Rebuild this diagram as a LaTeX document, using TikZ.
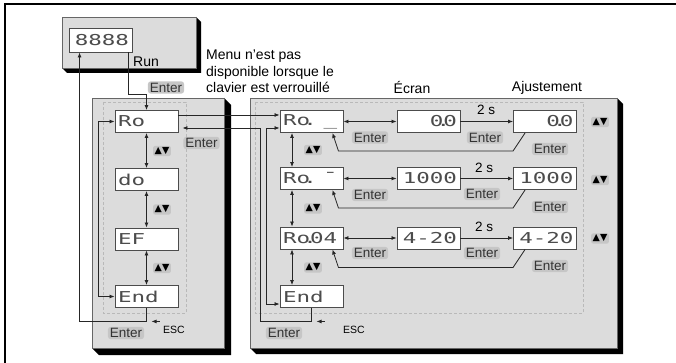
\documentclass[tikz,border=0pt]{standalone}
\usepackage{fontspec}
\setmainfont{Liberation Sans}
\newfontfamily\segfont[FakeStretch=1.5]{DejaVu Sans Mono}
\newfontfamily\symfont{DejaVu Sans}
\usetikzlibrary{calc,arrows.meta}
\definecolor{panelgray}{HTML}{DCDCDC}
\definecolor{pillgray}{HTML}{C6C6C6}
\definecolor{inkgray}{HTML}{333333}
\newcommand{\dotp}{\makebox[0pt]{.}}
\tikzset{disp/.style={draw=black!70, fill=white, line width=0.9pt, minimum height=22pt,
		text width=57pt, inner sep=3pt, text=black!70, font=\segfont\fontsize{15}{15}\selectfont},
	displeft/.style={disp, align=left},
	dispright/.style={disp, align=right},
	enter/.style={fill=pillgray, rounded corners=3pt, inner xsep=2pt, inner ysep=1.5pt,
		text=inkgray, font=\fontsize{13.5}{14}\selectfont},
	updn/.style={fill=pillgray, rounded corners=2pt, inner sep=1.5pt,
		font=\symfont\fontsize{9.5}{9.5}\selectfont},
	note/.style={font=\fontsize{14}{16.5}\selectfont, inner sep=0pt},
	esc/.style={font=\fontsize{10.5}{11}\selectfont, inner sep=0pt},
	conn/.style={draw=black!85, line width=0.8pt},
	arr/.style={conn, -{Latex[length=5pt,width=4pt]}},
	dbl/.style={conn, {Latex[length=5pt,width=4pt]}-{Latex[length=5pt,width=4pt]}},
	dashbox/.style={draw=gray!55, line width=0.6pt, dash pattern=on 3pt off 2pt}}

\begin{document}
\begin{tikzpicture}[x=1pt,y=-1pt]
		\useasboundingbox (0,0) rectangle (676,363);
		% frame
		\draw[line width=1.2pt] (5,363) -- (5,4) -- (676,4);
		% panels
		\fill[black] (196,17) -- (201,22) -- (201,73) -- (67,73) -- (62,68) -- (196,68) -- cycle;
		\filldraw[fill=panelgray, draw=black!60] (62,17) rectangle (196,68);
		\fill[black] (224,98) -- (231,105) -- (231,355) -- (99,355) -- (92,348) -- (224,348) -- cycle;
		\filldraw[fill=panelgray, draw=black!60] (92,98) rectangle (224,348);
		\fill[black] (617,98) -- (623,104) -- (623,354) -- (256,354) -- (250,348) -- (617,348) -- cycle;
		\filldraw[fill=panelgray, draw=black!60] (250,98) rectangle (617,348);
		\draw[dashbox] (103,102) rectangle (186,313);
		\draw[dashbox] (255,102) rectangle (583,313);
		
		% displays
		\node[dispright, minimum height=24pt] (run8) at (100.5,40) {8888};
		\node[displeft] (aoL) at (146.5,121.5) {Ro};
		\node[displeft] (doL) at (146.5,179.5) {do};
		\node[displeft] (efL) at (146.5,239) {EF};
		\node[displeft] (endL) at (146.5,296.5) {End};
		\node[displeft] (aoR) at (311.5,121.5) {Ro\dotp\phantom{0}\_};
		\node[displeft] (ahR) at (311.5,178.5) {Ro\dotp\phantom{0}¯};
		\node[displeft] (asR) at (311.5,238) {Ro\dotp04};
		\node[displeft] (endR) at (311.5,296.5) {End};
		\node[dispright] (ecr1) at (428.5,121.5) {0\dotp0};
		\node[dispright] (ecr2) at (428.5,178.5) {1000};
		\node[dispright] (ecr3) at (428.5,238) {4-20};
		\node[dispright] (adj1) at (545,121.5) {0\dotp0};
		\node[dispright] (adj2) at (545,178.5) {1000};
		\node[dispright] (adj3) at (545,238) {4-20};
		
		% texts
		\node[note] (runTxt) at (146,62) {Run};
		\node[note, anchor=north west, align=left] (menuTxt) at (206,50)
		{Menu n'est pas\\disponible lorsque le\\clavier est verrouillé};
		\node[note] (ecranTxt) at (412,88) {Écran};
		\node[note] (ajustTxt) at (547,88) {Ajustement};
		\node[enter] (enRun) at (166,87.5) {Enter};
		\node[enter] (enLeft) at (201.5,143) {Enter};
		\node[enter] (enEscL) at (126,333) {Enter};
		\node[esc] (escL) at (174,330) {ESC};
		\node[enter] (enEscR) at (284,333) {Enter};
		\node[esc] (escR) at (354,330) {ESC};
		\node[updn] (udL1) at (162,151) {▲▼};
		\node[updn] (udL2) at (162,209.5) {▲▼};
		\node[updn] (udL3) at (162,268) {▲▼};
		\node[updn] (udR1) at (313,150) {▲▼};
		\node[updn] (udR2) at (313,208.5) {▲▼};
		\node[updn] (udR3) at (313,267.5) {▲▼};
		\node[updn] (udA1) at (600,122) {▲▼};
		\node[updn] (udA2) at (600,180) {▲▼};
		\node[updn] (udA3) at (600,238.5) {▲▼};
		\node[note, font=\fontsize{13.5}{14}\selectfont] (tA) at (486,110) {2 s};
		\node[note, font=\fontsize{13.5}{14}\selectfont] (tB) at (484,167.5) {2 s};
		\node[note, font=\fontsize{13.5}{14}\selectfont] (tC) at (484,227) {2 s};
		\node[enter] (en1a) at (370,137.5) {Enter};
		\node[enter] (en1b) at (485,137.5) {Enter};
		\node[enter] (en1c) at (550,149) {Enter};
		\node[enter] (en2a) at (370,195) {Enter};
		\node[enter] (en2b) at (482,194) {Enter};
		\node[enter] (en2c) at (550,207) {Enter};
		\node[enter] (en3a) at (370,253) {Enter};
		\node[enter] (en3b) at (482,253) {Enter};
		\node[enter] (en3c) at (550,266) {Enter};
		
		% left menu
		\draw[arr] ($(run8.south east)+(-4,0)$) |- ($(aoL.north)+(0,-16)$) -- (aoL.north);
		\draw[dbl] (aoL.west) -- ++(-16,0) |- (endL.west);
		\draw[dbl] (aoL.south) -- (doL.north);
		\draw[dbl] (doL.south) -- (efL.north);
		\draw[dbl] (efL.south) -- (endL.north);
		\draw[arr] (endL.south) -- ++(0,13.5) -| ($(run8.south west)+(11,0)$);
		\draw[arr] ($(endL.south)+(13,13.5)$) -- ++(-8,0);
		
		% right menu
		\coordinate (lnkA) at ($(aoL.east)+(0,-6.5)$);
		\draw[arr] (lnkA) -- (lnkA -| aoR.west);
		\draw[arr] (endR.south) -- ++(0,13.5) -| ($(aoR.west)+(-19,6.5)$) -- ($(aoL.east)+(4,6.5)$);
		\draw[arr] ($(endR.south)+(13,13.5)$) -- ++(-8,0);
		\draw[dbl] ($(aoR.west)+(0,6.5)$) -- ++(-13,0) |- ($(endR.west)+(0,7.5)$);
		\draw[dbl] ($(aoR.south)+(-19.5,0)$) -- ($(ahR.north)+(-19.5,0)$);
		\draw[dbl] ($(ahR.south)+(-19.5,0)$) -- ($(asR.north)+(-19.5,0)$);
		\draw[dbl] ($(asR.south)+(-19.5,0)$) -- ($(endR.north)+(-19.5,0)$);
		
		% rows
		\draw[dbl] (aoR.east) -- (ecr1.west);
		\draw[dbl] (ahR.east) -- (ecr2.west);
		\draw[dbl] (asR.east) -- (ecr3.west);
		\draw[arr] (ecr1.east) -- (adj1.west);
		\draw[arr] (ecr2.east) -- (adj2.west);
		\draw[arr] (ecr3.east) -- (adj3.west);
		\draw[arr] ($(adj1.south west)+(12,0)$) -- ++(-12,18) -- ($(aoR.south east)+(-5,18)$) -- ($(aoR.south east)+(-11,0)$);
		\draw[arr] ($(adj2.south west)+(12,0)$) -- ++(-12,18) -- ($(ahR.south east)+(-5,18)$) -- ($(ahR.south east)+(-11,0)$);
		\draw[arr] ($(adj3.south west)+(12,0)$) -- ++(-12,18) -- ($(asR.south east)+(-5,18)$) -- ($(asR.south east)+(-11,0)$);
		\end{tikzpicture}
\end{document}
